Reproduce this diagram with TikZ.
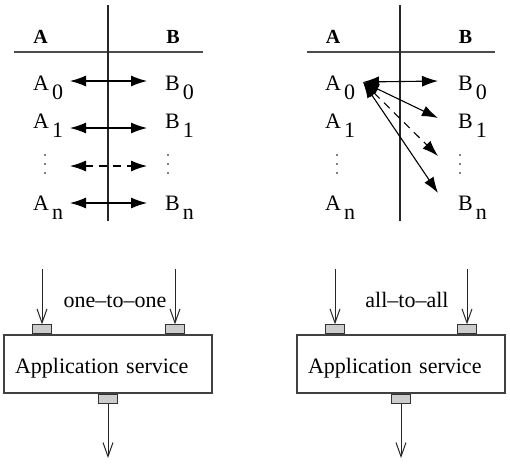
\documentclass[tikz,border=0pt]{standalone}
\usepackage{fontspec}
\setmainfont{Liberation Serif}
\usetikzlibrary{arrows.meta}

\newcommand\lowidx[1]{\hspace{3pt}\raisebox{-9pt}{#1}}

\begin{document}
\begin{tikzpicture}[x = 1pt, y = -1pt,
  lbl/.style = {anchor = base west, inner sep = 0pt, font = \fontsize{22}{26}\selectfont},
  head/.style = {anchor = base, inner sep = 0pt, font = \bfseries\fontsize{20}{24}\selectfont},
  rule/.style = {draw = black!70, line width = 1.4pt},
  axis/.style = {draw = black!85, line width = 1.2pt},
  link/.style = {{Latex[length=16pt,width=11pt]}-{Latex[length=16pt,width=11pt]}, line width = 1.1pt},
  dlink/.style = {link, dash pattern = on 8pt off 6pt},
  svcbox/.style = {draw = black!75, line width = 1.3pt, minimum width = 208pt, minimum height = 58pt,
    text width = 186pt, inner xsep = 11pt, align = left, text height = 20pt, text depth = 2pt,
    font = \fontsize{22}{26}\selectfont},
  port/.style = {draw = black!80, fill = black!20, line width = 1pt, minimum width = 19pt,
    minimum height = 9pt, inner sep = 0pt},
  feed/.style = {-{Straight Barb[length=14pt,width=10pt]}, draw = black!85, line width = 1pt},
  mode/.style = {anchor = base, inner sep = 0pt, font = \fontsize{22}{26}\selectfont}]

  \useasboundingbox (0,0) rectangle (510,467);

  % left table: one-to-one
  \draw[rule] (14,52) -- (203,52);
  \draw[axis] (108,5) -- (108,221);
  \node[head] (hA1) at (40.5,43) {A};
  \node[head] (hB1) at (173,43) {B};

  \foreach \r/\yb/\ya in {0/90/81, 1/128/128, n/210/203}
  {
    \node[lbl] (a\r) at (33,\yb) {A\lowidx{\r}};
    \node[lbl] (b\r) at (165,\yb) {B\lowidx{\r}};
    \coordinate (la\r) at (70,\ya);
    \coordinate (lb\r) at (147,\ya);
    \draw[link] (la\r) -- (lb\r);
  }
  \coordinate (lad) at (70,166);
  \coordinate (lbd) at (147,166);
  \draw[dlink] (lad) -- (lbd);
  \foreach \y in {155,164,173}
  {
    \fill (45,\y) circle (0.9);
    \fill (168,\y) circle (0.9);
  }

  % right table: all-to-all
  \draw[rule] (307,52) -- (495,52);
  \draw[axis] (400,5) -- (400,221);
  \node[head] (hA2) at (333,43) {A};
  \node[head] (hB2) at (465.5,43) {B};

  \foreach \r/\yb in {0/90, 1/128, n/210}
  {
    \node[lbl] (ra\r) at (325,\yb) {A\lowidx{\r}};
    \node[lbl] (rb\r) at (458,\yb) {B\lowidx{\r}};
  }
  \coordinate (hub) at (363,82);
  \coordinate (rt0) at (438,81);
  \coordinate (rt1) at (438,118);
  \coordinate (rtd) at (438,156);
  \coordinate (rtn) at (438,193);
  \draw[link] (hub) -- (rt0);
  \draw[link] (hub) -- (rt1);
  \draw[dlink] (hub) -- (rtd);
  \draw[link] (hub) -- (rtn);
  \foreach \y in {155,164,173}
  {
    \fill (337,\y) circle (0.9);
    \fill (460,\y) circle (0.9);
  }

  % services
  \node[svcbox] (svcL) at (108,364) {Application service};
  \node[svcbox] (svcR) at (401,364) {Application service};

  \node[port, anchor = south] (inL1) at ([xshift=-66]svcL.north) {};
  \node[port, anchor = south] (inL2) at ([xshift=67]svcL.north) {};
  \node[port, anchor = north] (outL) at (svcL.south) {};
  \node[port, anchor = south] (inR1) at ([xshift=-66]svcR.north) {};
  \node[port, anchor = south] (inR2) at ([xshift=66]svcR.north) {};
  \node[port, anchor = north] (outR) at (svcR.south) {};

  \foreach \p in {inL1, inL2, inR1, inR2}
  {
    \coordinate (src\p) at (\p.north |- 0,269);
    \draw[feed] (src\p) -- (\p);
  }
  \coordinate (dstL) at (outL.south |- 0,458);
  \coordinate (dstR) at (outR.south |- 0,458);
  \draw[feed] (outL) -- (dstL);
  \draw[feed] (outR) -- (dstR);

  \node[mode] (m1) at (115,307) {one--to--one};
  \node[mode] (m2) at (407,307) {all--to--all};

\end{tikzpicture}
\end{document}
